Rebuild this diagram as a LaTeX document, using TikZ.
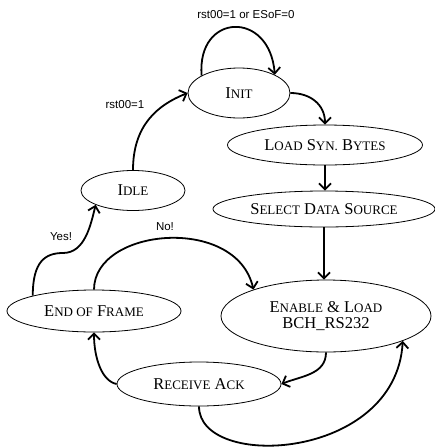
\documentclass[tikz,border=0pt]{standalone}
\usepackage{fontspec}
\setmainfont{Liberation Serif}
\newfontfamily\labelfont{Liberation Sans}
\usetikzlibrary{shapes.geometric,arrows.meta}

% faked small capitals: first letter full size, the rest smaller
\newcommand\capsm[2]{#1{\fontsize{13}{13}\selectfont #2}}

\tikzset{
  stbox/.style={ellipse, draw, line width=0.8pt, inner sep=0pt,
    font=\fontsize{16.5}{18}\selectfont, align=center},
  trans/.style={line width=1.8pt, -{Straight Barb[length=6pt,width=12pt]}},
  lab/.style={font=\labelfont\fontsize{11.5}{13}\selectfont}
}

\begin{document}
\begin{tikzpicture}[x=1pt,y=-1pt]
\useasboundingbox (0,0) rectangle (435,448);

% states
\node[stbox, minimum width=102pt, minimum height=50pt] (init) at (239,93) {\capsm{I}{NIT}};
\node[stbox, minimum width=195pt, minimum height=40pt] (load) at (325,145) {\capsm{L}{OAD} \capsm{S}{YN.} \capsm{B}{YTES}};
\node[stbox, minimum width=104pt, minimum height=40pt] (idle) at (133,190.5) {\capsm{I}{DLE}};
\node[stbox, minimum width=222pt, minimum height=36pt] (select) at (324,209) {\capsm{S}{ELECT} \capsm{D}{ATA} \capsm{S}{OURCE}};
\node[stbox, minimum width=210pt, minimum height=72pt] (enable) at (326,316) {\capsm{E}{NABLE} \& \capsm{L}{OAD}\\[-2pt]BCH\_RS232};
\node[stbox, minimum width=174pt, minimum height=42pt] (eof) at (94,311) {\capsm{E}{ND OF} \capsm{F}{RAME}};
\node[stbox, minimum width=164pt, minimum height=44pt] (ack) at (199,384) {\capsm{R}{ECEIVE} \capsm{A}{CK}};

\coordinate (yesbend) at (63,253);

% transitions
\draw[trans] (init.155) .. controls +(-5,-63) and +(-5,-65) .. (init.27);
\draw[trans] (idle.north) .. controls +(0,-45) and +(-30,12) .. (init.west);
\draw[trans] (init.east) .. controls +(20,0) and +(0,-20) .. (load.north);
\draw[trans] (load.south) -- (load.south |- select.north);
\draw[trans] (select.south) -- (select.south |- enable.north);
\draw[trans] (eof.166) .. controls +(0,-34) and +(-18,0) .. (yesbend)
  .. controls +(22,0) and +(-5,20) .. (idle.201);
\draw[trans] (eof.north) .. controls +(0,-62) and +(-17,-75) .. (enable.160);
\draw[trans] (enable.south) .. controls +(0,22) and +(20,-8) .. (ack.east);
\draw[trans] (ack.west) .. controls +(-15,-3) and +(0,25) .. (eof.south);
\draw[trans] (ack.south) .. controls +(0,64) and +(-7,120) .. (enable.-18);

% transition labels
\node[lab] (lblloop) at (246,15) {rst00=1 or ESoF=0};
\node[lab] (lblrst) at (125,105) {rst00=1};
\node[lab] (lblyes) at (61,237) {Yes!};
\node[lab] (lblno) at (165,227) {No!};
\end{tikzpicture}
\end{document}
